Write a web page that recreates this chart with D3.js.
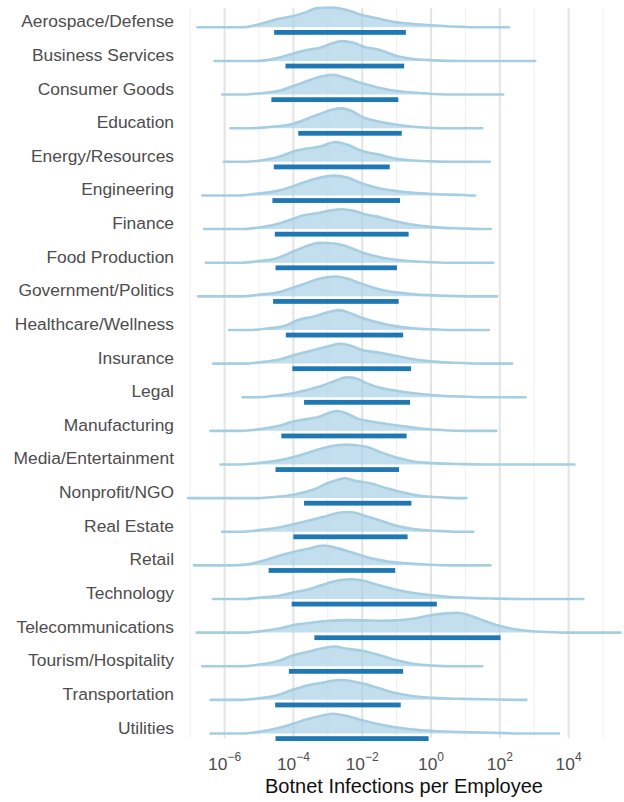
<!DOCTYPE html>
<html>
<head>
<meta charset="utf-8">
<script src="https://cdn.jsdelivr.net/npm/d3@7"></script>
<style>
  body { margin: 0; background: #fff; }
  svg { display: block; font-family: "Liberation Sans", Arial, sans-serif; }
</style>
</head>
<body>
<div class="canvas"></div>
<script>
// Industries, top to bottom
const industries = [
    "Aerospace/Defense", "Business Services", "Consumer Goods", "Education",
    "Energy/Resources", "Engineering", "Finance", "Food Production",
    "Government/Politics", "Healthcare/Wellness", "Insurance", "Legal",
    "Manufacturing", "Media/Entertainment", "Nonprofit/NGO", "Real Estate",
    "Retail", "Technology", "Telecommunications", "Tourism/Hospitality",
    "Transportation", "Utilities"
];

// data range per industry (log10 of infections per employee)
const minLog10 = [-6.79, -6.29, -6.07, -5.83, -6.02, -6.65, -6.6, -6.55, -6.77, -5.87, -6.33,
    -5.48, -6.41, -6.12, -7.06, -6.07, -6.89, -6.33, -6.81, -6.65, -6.41, -6.41];
const maxLog10 = [2.27, 3.03, 2.1, 1.49, 1.71, 1.28, 1.74, 1.81, 1.92, 1.68, 2.36,
    2.75, 1.9, 4.17, 1.03, 1.23, 1.73, 4.43, 5.51, 1.49, 2.77, 3.72];

// interval (thick bar) per industry, log10
const intervalLoLog10 = [-4.56, -4.23, -4.64, -3.86, -4.57, -4.61, -4.54, -4.52, -4.59, -4.22, -4.03,
    -3.69, -4.35, -4.52, -3.69, -4.0, -4.72, -4.05, -3.39, -4.13, -4.53, -4.52];
const intervalHiLog10 = [-0.73, -0.78, -0.95, -0.85, -1.2, -0.9, -0.65, -0.99, -0.94, -0.81, -0.58,
    -0.61, -0.71, -0.93, -0.57, -0.68, -1.04, 0.17, 2.02, -0.81, -0.88, -0.07];

// density profiles: [log10 value, relative height]
const densities = [
    [[-5.46,0],[-4.97,0.17],[-4.49,0.4],[-4.0,0.57],[-3.61,0.78],[-3.32,0.97],[-2.89,1.0],[-2.45,0.87],[-2.0,0.62],[-1.48,0.42],[-1.0,0.25],[-0.51,0.17],[0,0.1],[0.46,0.05],[0.93,0.02],[1.5,0]],
    [[-5.05,0],[-4.38,0.18],[-4,0.38],[-3.6,0.55],[-3.22,0.67],[-2.93,0.85],[-2.6,1.0],[-2.25,0.92],[-1.96,0.72],[-1.48,0.55],[-1.0,0.25],[-0.51,0.1],[0.07,0.03],[0.94,0]],
    [[-5.5,0],[-5.05,0.05],[-4.38,0.2],[-4,0.43],[-3.6,0.68],[-3.22,0.9],[-2.83,1.0],[-2.54,0.87],[-2,0.57],[-1.48,0.33],[-1,0.18],[-0.51,0.1],[0.07,0.03],[0.8,0]],
    [[-5.2,0],[-4.76,0.05],[-4,0.23],[-3.6,0.48],[-3.22,0.73],[-2.88,0.93],[-2.59,1.0],[-2.25,0.82],[-2,0.57],[-1.48,0.32],[-1,0.17],[-0.51,0.07],[0.07,0.01],[0.5,0]],
    [[-5.4,0],[-4.96,0.07],[-4.38,0.27],[-4,0.52],[-3.6,0.67],[-3.22,0.77],[-2.78,1.0],[-2.44,0.87],[-2,0.55],[-1.48,0.35],[-1,0.15],[-0.51,0.07],[0.07,0.02],[0.6,0]],
    [[-5.6,0],[-5.15,0.07],[-4.47,0.23],[-4,0.47],[-3.6,0.72],[-3.22,0.9],[-2.83,1.0],[-2.44,0.9],[-2,0.6],[-1.48,0.35],[-1,0.22],[-0.51,0.13],[0.07,0.07],[0.94,0.02],[1.2,0]],
    [[-5.5,0],[-5.05,0.07],[-4.38,0.3],[-4,0.52],[-3.7,0.7],[-3.31,0.8],[-2.93,0.93],[-2.6,1.0],[-2.25,0.92],[-1.86,0.72],[-1.48,0.6],[-1,0.38],[-0.51,0.22],[0.07,0.1],[0.94,0.03],[1.5,0]],
    [[-5.5,0],[-5.05,0.07],[-4.47,0.23],[-4,0.57],[-3.6,0.85],[-3.22,1.0],[-2.83,0.97],[-2.44,0.82],[-2,0.52],[-1.48,0.28],[-1,0.15],[-0.51,0.07],[0.2,0.01],[0.6,0]],
    [[-5.5,0],[-5.05,0.07],[-4.38,0.23],[-4,0.45],[-3.6,0.68],[-3.22,0.9],[-2.78,1.0],[-2.44,0.9],[-2,0.62],[-1.48,0.35],[-1,0.2],[-0.51,0.1],[0.07,0.05],[0.8,0.01],[1.3,0]],
    [[-5.2,0],[-4.76,0.07],[-4.18,0.25],[-3.9,0.48],[-3.41,0.68],[-3.02,0.88],[-2.69,1.0],[-2.35,0.85],[-2,0.6],[-1.48,0.35],[-1,0.18],[-0.51,0.08],[0.07,0.03],[0.6,0]],
    [[-5.4,0],[-4.96,0.07],[-4.38,0.22],[-4,0.42],[-3.6,0.6],[-3.22,0.77],[-2.93,0.9],[-2.64,1.0],[-2.25,0.85],[-2,0.68],[-1.48,0.55],[-1,0.38],[-0.51,0.22],[0.07,0.1],[0.94,0.03],[1.5,0]],
    [[-5.0,0],[-4.57,0.07],[-4,0.2],[-3.6,0.37],[-3.31,0.5],[-2.93,0.73],[-2.44,1.0],[-2.15,0.93],[-1.86,0.7],[-1.48,0.48],[-1,0.32],[-0.51,0.2],[0.07,0.1],[0.94,0.03],[1.6,0]],
    [[-5.5,0],[-5.05,0.07],[-4.38,0.27],[-4,0.47],[-3.6,0.6],[-3.22,0.73],[-2.98,0.9],[-2.73,1.0],[-2.44,0.87],[-2.15,0.63],[-1.77,0.48],[-1.29,0.35],[-0.8,0.23],[-0.32,0.12],[0.26,0.05],[1.0,0]],
    [[-5.6,0],[-5.15,0.05],[-4.38,0.22],[-4,0.38],[-3.41,0.68],[-3.02,0.88],[-2.64,0.98],[-2.45,1.0],[-2.25,0.98],[-1.86,0.88],[-1.48,0.63],[-1,0.35],[-0.51,0.15],[0.07,0.07],[0.94,0.02],[1.6,0]],
    [[-5.0,0],[-4.57,0.05],[-4,0.17],[-3.6,0.33],[-3.31,0.5],[-3.02,0.75],[-2.73,0.92],[-2.49,1.0],[-2.2,0.87],[-1.77,0.75],[-1.29,0.5],[-0.8,0.28],[-0.32,0.12],[0.36,0.03],[0.8,0]],
    [[-5.5,0],[-5.05,0.07],[-4.38,0.23],[-4,0.38],[-3.41,0.63],[-3.02,0.8],[-2.64,0.97],[-2.35,1.0],[-2,0.85],[-1.48,0.57],[-1,0.3],[-0.51,0.13],[0.07,0.05],[0.7,0]],
    [[-5.8,0],[-5.34,0.05],[-4.96,0.2],[-4.38,0.5],[-4,0.67],[-3.6,0.83],[-3.12,1.0],[-2.73,0.87],[-2.25,0.62],[-1.77,0.37],[-1.29,0.2],[-0.7,0.1],[-0.03,0.03],[0.6,0]],
    [[-5.4,0],[-4.96,0.07],[-4.38,0.17],[-4,0.33],[-3.6,0.47],[-3.22,0.68],[-2.83,0.88],[-2.35,1.0],[-2,0.93],[-1.48,0.68],[-1,0.47],[-0.51,0.3],[0.07,0.18],[0.94,0.07],[1.9,0.02],[2.6,0]],
    [[-5.4,0],[-4.96,0.07],[-4.38,0.22],[-4,0.38],[-3.41,0.52],[-2.93,0.6],[-2.44,0.63],[-1.96,0.62],[-1.48,0.6],[-1,0.62],[-0.51,0.7],[-0.03,0.87],[0.45,0.97],[0.74,1.0],[1.03,0.92],[1.42,0.68],[1.9,0.38],[2.39,0.18],[2.87,0.08],[3.35,0.03],[4.0,0]],
    [[-5.5,0],[-5.05,0.07],[-4.47,0.25],[-4,0.55],[-3.6,0.72],[-3.22,0.88],[-2.83,1.0],[-2.44,0.88],[-2,0.78],[-1.48,0.55],[-1,0.3],[-0.51,0.12],[0.07,0.03],[0.5,0]],
    [[-5.5,0],[-5.05,0.07],[-4.47,0.23],[-4,0.52],[-3.6,0.73],[-3.22,0.85],[-2.64,1.0],[-2.25,0.93],[-1.86,0.77],[-1.48,0.57],[-1,0.33],[-0.51,0.18],[0.07,0.1],[0.94,0.05],[1.9,0.02],[2.5,0]],
    [[-5.5,0],[-5.05,0.07],[-4.38,0.3],[-4,0.5],[-3.6,0.72],[-3.22,0.88],[-2.88,1.0],[-2.54,0.92],[-2,0.67],[-1.48,0.45],[-1,0.3],[-0.51,0.2],[0.07,0.13],[0.94,0.07],[1.9,0.03],[2.8,0]]
];

// axis ticks (exponents)
const majorExponents = [-6, -4, -2, 0, 2, 4];
const minorExponents = [-7, -5, -3, -1, 1, 3, 5];

const width = 624, height = 802;
const lightBlue = "#a6cee3", darkBlue = "#1f78b4";

const svg = d3.select(".canvas")
    .append("svg")
    .attr("width", width)
    .attr("height", height);

// Scales
const x = d3.scaleLog().domain([1e-7, 1e5]).range([190.2, 603]);
const y = d3.scalePoint().domain(industries).range([27.3, 733.5]);
const h = d3.scaleLinear().domain([0, 1]).range([0, 19.8]);

const panelTop = 8, panelBottom = 738;

// Grid lines
svg.append("g")
    .selectAll("line")
    .data(minorExponents)
    .enter().append("line")
    .attr("x1", d => x(Math.pow(10, d)))
    .attr("x2", d => x(Math.pow(10, d)))
    .attr("y1", panelTop)
    .attr("y2", panelBottom)
    .attr("stroke", "#f0f0f0")
    .attr("stroke-width", 1.1);

svg.append("g")
    .selectAll("line")
    .data(majorExponents)
    .enter().append("line")
    .attr("x1", d => x(Math.pow(10, d)))
    .attr("x2", d => x(Math.pow(10, d)))
    .attr("y1", panelTop)
    .attr("y2", panelBottom)
    .attr("stroke", "#e4e4e4")
    .attr("stroke-width", 2.1);

// Ridges
const rows = industries.map((name, i) => {
    const pts = densities[i].filter(p => p[0] > minLog10[i] && p[0] < maxLog10[i]);
    return {
        name: name,
        points: [[minLog10[i], 0], ...pts, [maxLog10[i], 0]],
        lo: intervalLoLog10[i],
        hi: intervalHiLog10[i]
    };
});

const ridge = svg.append("g")
    .selectAll("g")
    .data(rows)
    .enter().append("g")
    .attr("transform", d => "translate(0," + y(d.name) + ")");

const area = d3.area()
    .x(p => x(Math.pow(10, p[0])))
    .y0(0)
    .y1(p => -h(p[1]))
    .curve(d3.curveMonotoneX);

const line = d3.line()
    .x(p => x(Math.pow(10, p[0])))
    .y(p => -h(p[1]))
    .curve(d3.curveMonotoneX);

ridge.append("path")
    .attr("d", d => area(d.points))
    .attr("fill", lightBlue)
    .attr("fill-opacity", 0.68);

ridge.append("path")
    .attr("d", d => line(d.points))
    .attr("fill", "none")
    .attr("stroke", lightBlue)
    .attr("stroke-width", 2.6)
    .attr("stroke-linecap", "round")
    .attr("stroke-linejoin", "round");

ridge.append("rect")
    .attr("x", d => x(Math.pow(10, d.lo)))
    .attr("width", d => x(Math.pow(10, d.hi)) - x(Math.pow(10, d.lo)))
    .attr("y", 2.7)
    .attr("height", 4.8)
    .attr("fill", darkBlue);

// Category labels
svg.append("g")
    .selectAll("text")
    .data(industries)
    .enter().append("text")
    .attr("x", 174)
    .attr("y", d => y(d))
    .attr("text-anchor", "end")
    .attr("font-size", 17.4)
    .attr("fill", "#4d4d4d")
    .text(d => d);

// X tick labels 10^n
const tickLabels = svg.append("g")
    .selectAll("text")
    .data(majorExponents)
    .enter().append("text")
    .attr("x", d => x(Math.pow(10, d)))
    .attr("y", 769.5)
    .attr("text-anchor", "middle")
    .attr("fill", "#4d4d4d")
    .attr("font-size", 17.4);

tickLabels.append("tspan").text("10");
tickLabels.append("tspan")
    .attr("font-size", 12)
    .attr("dy", -8.5)
    .text(d => (d < 0 ? "\u2212" + (-d) : String(d)));

// Axis title
svg.append("text")
    .attr("x", 404)
    .attr("y", 793)
    .attr("text-anchor", "middle")
    .attr("font-size", 20)
    .attr("fill", "#111")
    .text("Botnet Infections per Employee");
</script>
</body>
</html>
